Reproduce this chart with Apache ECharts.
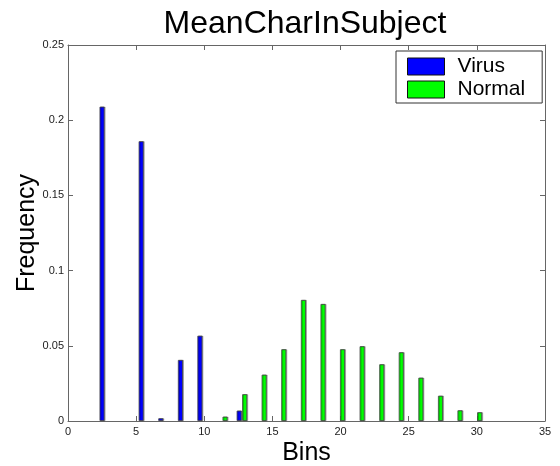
<!DOCTYPE html>
<html>
<head>
<meta charset="utf-8">
<script src="https://cdn.jsdelivr.net/npm/echarts@6/dist/echarts.min.js"></script>
<style>
  html, body { margin: 0; padding: 0; background: #fff; }
  #chart { width: 560px; height: 466px; }
</style>
</head>
<body>
<div id="chart"></div>
<script>
// bin centres of the histogram
const bins = [2.70, 4.14, 5.57, 7.01, 8.45, 9.88, 11.32, 12.76, 14.19, 15.63,
  17.07, 18.51, 19.94, 21.38, 22.82, 24.25, 25.69, 27.13, 28.56, 30.00]
const virus = [0.209, 0, 0.186, 0.0018, 0.0406, 0.0567, 0, 0.0069, 0, 0,
  0, 0, 0, 0, 0, 0, 0, 0, 0, 0]
const normal = [0, 0, 0, 0, 0, 0, 0.0029, 0.0178, 0.0308, 0.0477,
  0.0805, 0.0778, 0.0477, 0.0497, 0.0377, 0.0457, 0.0288, 0.0168, 0.0071, 0.0058]
const xTicks = [0, 5, 10, 15, 20, 25, 30, 35]
const yTicks = [0, 0.05, 0.1, 0.15, 0.2, 0.25]

const font = 'Liberation Sans, Arial, sans-serif'
const axisColor = '#666'

const toPairs = (vals) =>
  bins.map((b, i) => (vals[i] > 0 ? [b, vals[i]] : null)).filter((d) => d)

const barStyle = (color) => ({
  color: color,
  borderColor: '#444',
  borderWidth: 0.8,
  shadowColor: 'rgba(0,0,0,0.3)',
  shadowOffsetX: 1,
})

const axisCommon = {
  type: 'value',
  axisLine: { show: true, onZero: false, lineStyle: { color: axisColor, width: 1 } },
  axisTick: { show: true, inside: true, length: 5, lineStyle: { color: axisColor } },
  splitLine: { show: false },
}

const chart = echarts.init(document.getElementById('chart'), null, { renderer: 'canvas' })
chart.setOption({
  animation: false,
  backgroundColor: '#fff',
  title: {
    text: 'MeanCharInSubject',
    left: 300,
    textAlign: 'center',
    top: 3,
    textStyle: { fontFamily: font, fontSize: 32, fontWeight: 'normal', color: '#000' },
  },
  legend: {
    orient: 'vertical',
    left: 396,
    top: 51,
    padding: [5, 17, 3, 11],
    itemWidth: 37,
    itemHeight: 17,
    itemGap: 2,
    borderColor: '#333',
    borderWidth: 1,
    backgroundColor: '#fff',
    icon: 'rect',
    itemStyle: { borderColor: '#111', borderWidth: 1, shadowColor: 'transparent' },
    textStyle: {
      fontFamily: font, fontSize: 21, color: '#000',
      padding: [0, 0, 0, 8],
    },
    data: ['Virus', 'Normal'],
  },
  grid: { left: 68, right: 15, top: 45, bottom: 45, outerBoundsMode: 'none' },
  xAxis: [
    {
      ...axisCommon,
      min: 0,
      max: 35,
      interval: 5,
      name: 'Bins',
      nameLocation: 'middle',
      nameGap: 20,
      nameMoveOverlap: false,
      nameTextStyle: { fontFamily: font, fontSize: 25, color: '#000' },
      axisLabel: {
        fontFamily: font, fontSize: 11, color: '#222', margin: 5,
        formatter: (v) => (xTicks.includes(v) ? String(v) : ''),
      },
    },
    {
      ...axisCommon,
      position: 'top',
      min: 0,
      max: 35,
      interval: 5,
      axisLabel: { show: false },
    },
  ],
  yAxis: [
    {
      ...axisCommon,
      min: 0,
      max: 0.25,
      interval: 0.05,
      name: 'Frequency',
      nameLocation: 'middle',
      nameGap: 28,
      nameMoveOverlap: false,
      nameTextStyle: { fontFamily: font, fontSize: 25, color: '#000' },
      axisLabel: {
        fontFamily: font, fontSize: 11, color: '#222', margin: 4,
        formatter: (v) => {
          const t = yTicks.find((y) => Math.abs(y - v) < 1e-9)
          return t === undefined ? '' : String(t)
        },
      },
    },
    {
      ...axisCommon,
      position: 'right',
      min: 0,
      max: 0.25,
      interval: 0.05,
      axisLabel: { show: false },
    },
  ],
  series: [
    {
      name: 'Virus',
      type: 'bar',
      barWidth: 5,
      barGap: '10%',
      itemStyle: barStyle('#0000ff'),
      data: toPairs(virus),
    },
    {
      name: 'Normal',
      type: 'bar',
      barWidth: 5,
      barGap: '10%',
      itemStyle: barStyle('#00ff00'),
      data: toPairs(normal),
    },
  ],
})
</script>
</body>
</html>
